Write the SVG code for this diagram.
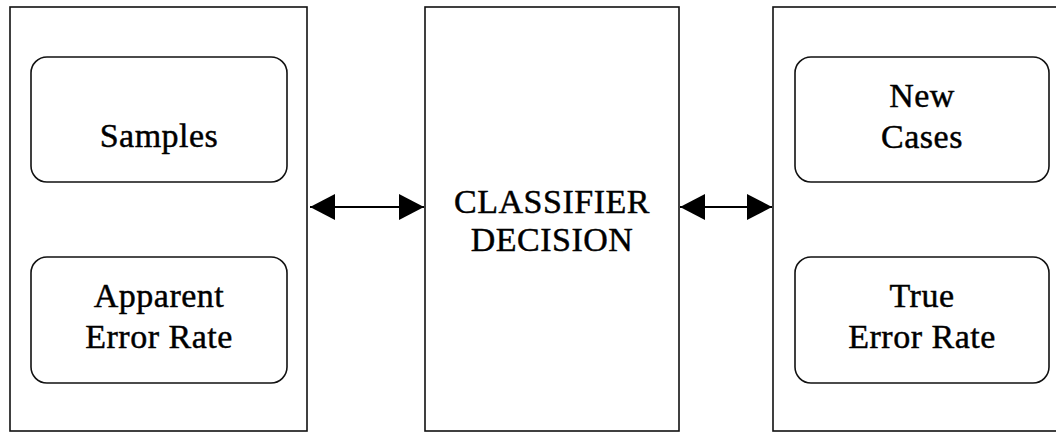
<svg xmlns="http://www.w3.org/2000/svg" width="1056" height="433" viewBox="0 0 1056 433">
  <defs>
    <style>
      .panel { fill: #ffffff; stroke: #111111; stroke-width: 1.6; }
      .item { fill: #ffffff; stroke: #111111; stroke-width: 1.6; }
      .label { font-family: "Liberation Serif", "Times New Roman", serif; font-size: 34px; letter-spacing: 0.5px; fill: #000000; stroke: #000000; stroke-width: 0.45; text-anchor: middle; }
      .link { stroke: #000000; stroke-width: 2; fill: none; }
    </style>
    <marker id="head" markerUnits="userSpaceOnUse" markerWidth="26" markerHeight="28" refX="25" refY="13" orient="auto-start-reverse">
      <path d="M0,0 L25,13 L0,26 Z" fill="#000000"/>
    </marker>
  </defs>

  <rect width="1056" height="433" fill="#ffffff"/>

  <!-- training side -->
  <g id="training">
    <rect class="panel" x="10" y="7" width="297" height="424"/>
    <g id="samples">
      <rect class="item" x="31" y="57" width="256" height="125" rx="16" ry="16"/>
      <text class="label" x="159" y="147">Samples</text>
    </g>
    <g id="apparent-error-rate">
      <rect class="item" x="31" y="257" width="256" height="126" rx="16" ry="16"/>
      <text class="label" x="159" y="307">Apparent</text>
      <text class="label" x="159" y="348">Error Rate</text>
    </g>
  </g>

  <!-- classifier -->
  <g id="classifier">
    <rect class="panel" x="425" y="7" width="254" height="424"/>
    <text class="label" x="552" y="213">CLASSIFIER</text>
    <text class="label" x="552" y="251">DECISION</text>
  </g>

  <!-- deployment side -->
  <g id="deployment">
    <rect class="panel" x="773" y="7" width="300" height="424"/>
    <g id="new-cases">
      <rect class="item" x="795" y="57" width="254" height="125" rx="16" ry="16"/>
      <text class="label" x="922" y="107">New</text>
      <text class="label" x="922" y="148">Cases</text>
    </g>
    <g id="true-error-rate">
      <rect class="item" x="795" y="257" width="254" height="126" rx="16" ry="16"/>
      <text class="label" x="922" y="307">True</text>
      <text class="label" x="922" y="348">Error Rate</text>
    </g>
  </g>

  <!-- two-way links -->
  <g id="connectors">
    <line class="link" x1="310" y1="207" x2="424" y2="207" marker-start="url(#head)" marker-end="url(#head)"/>
    <line class="link" x1="680" y1="207" x2="772" y2="207" marker-start="url(#head)" marker-end="url(#head)"/>
  </g>
</svg>
